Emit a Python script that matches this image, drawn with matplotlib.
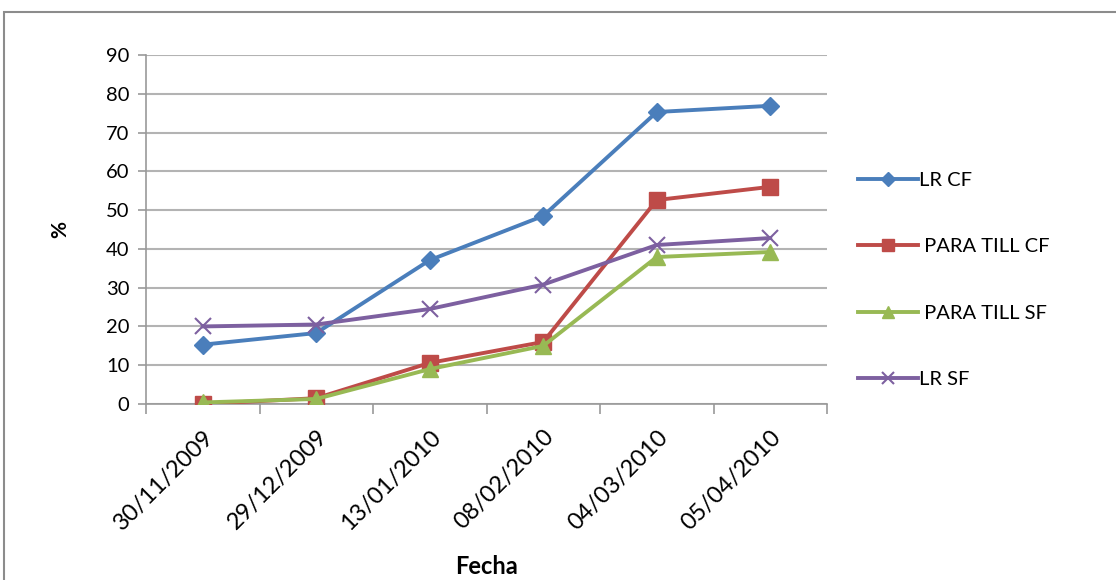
import matplotlib
matplotlib.use("Agg")
import matplotlib.pyplot as plt
from matplotlib.patches import Rectangle

plt.rcParams['font.family'] = ['Lato', 'DejaVu Sans']

fechas = ["30/11/2009", "29/12/2009", "13/01/2010", "08/02/2010", "04/03/2010", "05/04/2010"]
lr_cf = [15.3, 18.3, 37.1, 48.5, 75.3, 76.9]
para_till_cf = [0.0, 1.5, 10.6, 16.0, 52.6, 56.0]
para_till_sf = [0.4, 1.3, 9.0, 15.0, 37.9, 39.2]
lr_sf = [20.0, 20.5, 24.5, 30.8, 41.0, 42.8]

series = [
    ("LR CF", lr_cf, "#4a7ebb", "D", 9.5),
    (" PARA TILL CF", para_till_cf, "#be4b48", "s", 12),
    (" PARA TILL SF", para_till_sf, "#98b954", "^", 12),
    ("LR SF", lr_sf, "#7d60a0", "x", 11),
]

fig = plt.figure(figsize=(11.16, 5.8), dpi=100)
ax = fig.add_axes([146 / 1116, 1 - 404 / 580, (827 - 146) / 1116, (404 - 55) / 580])

x = list(range(len(fechas)))
for name, vals, color, marker, ms in series:
    kw = dict(markeredgewidth=1.5) if marker == "x" else dict(markeredgecolor=color)
    ax.plot(x, vals, color=color, linewidth=2.8, marker=marker, markersize=ms,
            markerfacecolor=color, label=name, zorder=3, **kw)

ax.set_xlim(-0.5, len(fechas) - 0.5)
ax.set_ylim(0, 90)
ax.set_yticks(range(0, 91, 10))
ax.yaxis.grid(True, color="#b3b3b3", linewidth=1.5)
ax.set_axisbelow(True)

ax.set_xticks(x)
ax.set_xticklabels(fechas, rotation=45, ha="right", rotation_mode="anchor", fontsize=17)
ax.tick_params(axis="x", length=0, pad=16)
ax.set_xticks([i - 0.5 for i in range(len(fechas) + 1)], minor=True)
ax.tick_params(axis="x", which="minor", length=7, width=1.2, color="#999999")
ax.tick_params(axis="y", length=6, width=1.2, color="#999999", labelsize=14.5, pad=6)

for side in ("top", "right"):
    ax.spines[side].set_visible(False)
for side in ("left", "bottom"):
    ax.spines[side].set_color("#999999")
    ax.spines[side].set_linewidth(1.2)

ax.set_ylabel("%", fontsize=15, fontweight="bold", va="center")
ax.yaxis.set_label_coords(-0.126, 0.5)
ax.set_xlabel("Fecha", fontsize=17, fontweight="bold", va="center")
ax.xaxis.set_label_coords(0.5, -0.467)

handles, labels = ax.get_legend_handles_labels()
fig.legend(handles, labels, loc="upper left", bbox_to_anchor=(850 / 1116, 1 - 164 / 580),
           frameon=False, fontsize=14.5, handlelength=3.0, handletextpad=0.05,
           labelspacing=2.44, markerscale=0.75, borderaxespad=0)

fig.patches.append(Rectangle((4 / 1116, -0.05), 1.2, 1 - 12 / 580 + 0.05,
                             transform=fig.transFigure, fill=False,
                             edgecolor="#8c8c8c", linewidth=1.5))

fig.savefig("out.png", dpi=100)
